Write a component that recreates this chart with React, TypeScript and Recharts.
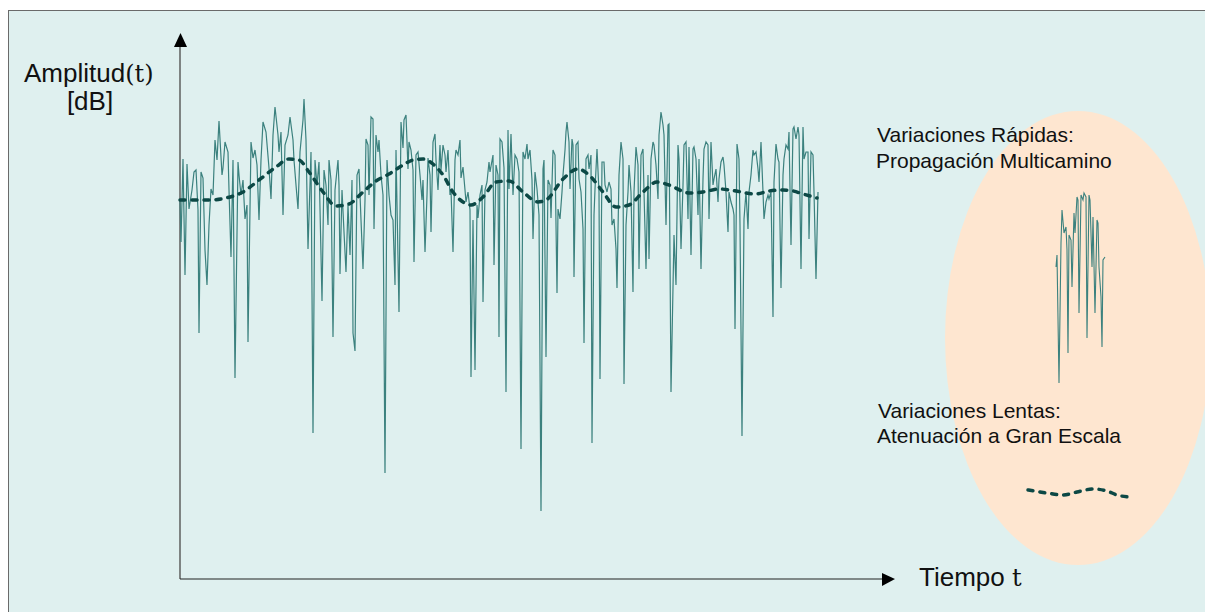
import { Line, LineChart, ReferenceLine, XAxis, YAxis } from "recharts";

// Fast fading samples: [time, amplitude dB]
const fastSamples: [number, number][] = [
  [0, -15.3], [1, -19.5], [3, -11.2], [5, -22.8], [7, -11.7], [9, -16.2], [12, -14.3], [14, -12.5],
  [16, -12.3], [18, -16.3], [19, -28.6], [21, -12.5], [23, -13.1], [25, -20.3], [27, -23.8], [29, -17.8],
  [31, -14.2], [33, -14.8], [35, -9.3], [37, -11.3], [39, -7.4], [42, -12.8], [43, -12.1], [45, -9.5],
  [48, -10.5], [49, -14.3], [51, -21.0], [53, -11.3], [55, -33.1], [58, -11.5], [59, -12.8], [61, -14.8],
  [63, -13.3], [65, -17.2], [67, -15.8], [68, -29.5], [71, -9.5], [73, -11.1], [75, -10.3], [77, -11.8],
  [79, -17.3], [81, -11.3], [83, -7.5], [86, -8.5], [89, -12.1], [91, -15.2], [93, -8.8], [95, -6.0],
  [98, -8.8], [99, -10.5], [101, -8.5], [103, -16.8], [105, -9.8], [108, -8.8], [110, -7.0], [113, -9.3],
  [114, -11.3], [116, -13.8], [118, -16.2], [120, -10.5], [123, -7.3], [124, -5.2], [126, -9.3], [128, -20.2],
  [131, -10.5], [133, -38.6], [135, -11.3], [137, -13.8], [139, -11.5], [142, -25.4], [144, -12.3], [146, -13.8],
  [148, -17.8], [149, -11.3], [151, -13.3], [153, -29.0], [155, -14.3], [158, -11.3], [159, -13.8],
  [160, -22.7], [162, -14.3], [164, -18.5], [166, -22.5], [168, -15.8], [170, -20.8], [172, -13.3], [173, -28.6],
  [175, -30.4], [177, -12.8], [179, -12.2], [181, -17.3], [183, -22.2], [185, -15.3], [186, -9.2], [188, -9.8],
  [189, -14.8], [191, -7.0], [193, -7.2], [194, -18.2], [196, -8.8], [198, -10.5], [199, -9.3], [201, -12.8],
  [203, -14.8], [205, -42.6], [207, -11.3], [209, -14.8], [211, -16.8], [213, -17.3], [215, -23.8], [216, -10.3],
  [219, -26.5], [221, -7.5], [223, -10.1], [224, -7.3], [226, -6.8], [228, -12.2], [229, -9.5], [231, -10.3],
  [233, -12.3], [234, -21.5], [236, -10.8], [238, -10.5], [240, -12.8], [242, -15.3], [243, -13.3], [245, -20.5],
  [247, -14.8], [248, -11.1], [250, -12.8], [251, -18.5], [253, -9.5], [255, -8.7], [256, -11.3], [258, -14.3],
  [260, -9.8], [261, -12.3], [263, -9.8], [265, -10.8], [266, -12.5], [268, -10.3], [270, -14.8], [271, -14.3],
  [273, -20.5], [275, -11.3], [276, -10.3], [278, -10.8], [280, -9.3], [281, -13.1], [283, -12.0], [285, -14.3],
  [286, -15.5], [288, -14.5], [290, -16.3], [291, -33.0], [293, -17.3], [295, -32.3], [297, -15.8], [298, -17.1],
  [300, -14.8], [302, -13.8], [303, -25.5], [305, -14.3], [307, -13.5], [309, -11.5], [310, -12.5], [313, -10.8],
  [314, -21.8], [316, -11.8], [318, -12.8],
  [319, -29.0], [320, -9.2], [322, -9.5], [324, -12.1], [326, -34.5], [328, -8.3], [329, -14.2], [331, -8.7],
  [333, -14.8], [335, -10.8], [337, -11.2], [339, -12.5], [341, -40.2], [343, -10.5], [345, -11.2], [347, -9.7],
  [348, -11.2], [350, -10.3], [352, -13.3], [353, -19.2], [355, -12.5], [357, -14.2], [359, -16.8], [361, -46.4],
  [363, -12.2], [364, -11.3], [366, -31.0], [368, -13.3], [370, -13.8], [371, -17.1], [373, -10.3], [375, -10.8],
  [377, -24.6], [378, -16.2], [380, -17.2], [382, -14.5], [383, -12.8], [385, -10.3], [386, -8.5], [387, -7.5],
  [389, -9.5], [390, -14.2], [392, -9.2], [393, -9.8], [394, -23.0], [396, -9.8], [398, -9.5], [399, -13.2],
  [401, -14.5], [403, -18.2], [404, -29.6], [406, -11.2], [408, -10.8], [409, -12.2], [411, -10.8], [412, -39.6],
  [414, -16.8], [415, -14.2], [417, -10.2], [419, -14.5], [420, -33.2], [422, -11.5], [424, -11.5], [425, -13.8],
  [427, -14.5], [429, -13.5], [431, -14.2], [432, -17.8], [434, -17.2], [436, -20.2], [437, -24.1], [439, -12.8],
  [441, -9.5], [443, -11.2], [444, -33.7], [446, -17.8], [448, -14.5], [449, -11.8], [451, -14.5], [453, -24.5],
  [454, -14.5], [456, -10.0], [458, -11.8], [459, -22.2], [461, -10.8], [463, -10.2], [464, -14.5], [466, -22.2],
  [468, -12.8], [469, -21.2], [471, -11.2], [473, -9.5], [474, -9.8], [476, -11.8],
  [478, -15.2], [479, -8.8], [481, -6.5], [483, -7.8], [484, -8.8], [486, -17.8], [488, -7.8], [489, -7.7],
  [491, -34.5], [494, -18.8], [496, -23.8], [498, -9.8], [499, -11.2], [501, -20.2], [503, -13.8], [504, -9.8],
  [506, -9.5], [508, -17.2], [509, -10.0], [511, -20.8], [513, -10.2], [514, -10.0], [516, -11.2], [518, -16.8],
  [519, -11.2], [521, -22.2], [523, -13.2], [524, -10.2], [526, -9.5], [528, -9.8], [529, -17.2], [531, -9.5],
  [533, -13.8], [534, -13.2], [536, -12.2], [538, -15.5], [539, -13.2], [541, -11.5], [543, -11.0], [544, -11.8],
  [546, -14.5], [548, -18.5], [549, -14.5], [551, -15.5], [553, -16.2], [554, -16.8], [555, -28.2], [557, -9.7],
  [559, -11.2], [560, -17.8], [562, -38.9], [564, -17.2], [566, -14.5], [568, -18.2], [569, -14.5], [571, -12.8],
  [573, -10.3], [574, -10.8], [576, -10.5], [578, -12.2], [579, -13.5], [581, -9.5], [583, -14.5], [584, -17.2],
  [586, -15.5], [588, -14.8], [589, -15.2], [591, -14.5], [593, -27.0], [594, -13.5], [596, -9.7], [598, -11.2],
  [599, -11.5], [601, -24.1], [603, -12.8], [604, -11.2], [606, -9.8], [608, -10.2], [609, -8.5], [611, -19.8],
  [613, -8.2], [614, -8.0], [616, -9.2], [618, -8.0], [619, -8.8], [621, -22.2], [623, -8.0], [624, -11.2],
  [626, -10.5], [628, -10.5], [629, -19.2], [631, -10.5], [633, -10.8], [634, -14.5], [636, -23.2], [638, -14.5],
];

// Large-scale (slow) fading: [time, amplitude dB]
const slowSamples: [number, number][] = [
  [0, -15.3], [15, -15.3], [29, -15.3], [46, -15.1], [63, -14.5], [79, -13.3], [96, -12.0], [109, -11.2],
  [119, -11.3], [129, -12.5], [143, -14.5], [156, -15.9], [169, -15.7], [183, -14.5], [196, -13.4], [209, -12.7],
  [223, -11.8], [233, -11.3], [243, -11.2], [253, -11.7], [263, -12.8], [273, -14.5], [283, -15.5], [291, -15.8],
  [303, -15.0], [316, -13.5], [329, -13.4], [343, -14.5], [358, -15.5], [366, -15.3], [383, -13.2], [398, -12.2],
  [409, -12.8], [423, -14.5], [436, -16.0], [449, -15.8], [463, -14.5], [477, -13.5], [489, -13.8], [509, -14.6],
  [523, -14.5], [539, -14.2], [556, -14.4], [566, -14.6], [576, -14.7], [589, -14.4], [603, -14.3], [613, -14.4],
  [623, -14.7], [637, -15.1],
];

// Legend samples
const rapidLegend: [number, number][] = [
  [0, -7.4], [1, -6.2], [3, -19.0], [5, -5.0], [6, -1.7], [8, -4.0], [10, -3.4], [11, -5.7], [12, -16.0],
  [13, -4.2], [15, -4.7], [16, -9.4], [18, -2.0], [19, -4.0], [21, -0.4], [22, -0.7], [23, -12.0], [25, -0.2],
  [27, -0.7], [28, 0], [30, -0.4], [31, -14.5], [33, -0.2], [34, -0.7], [36, -7.4], [37, -2.4], [39, -12.0],
  [41, -2.7], [42, -3.0], [43, -7.4], [45, -10.4], [46, -15.4], [47, -6.7], [49, -6.4],
];
const slowLegend: [number, number][] = [
  [0, -0.2], [19, -0.5], [35, -0.7], [49, -0.4], [65, -0.1], [79, -0.3], [89, -0.7], [100, -0.9],
];

const timeDomain: [number, number] = [0, 702];
const dbDomain: [number, number] = [-53.2, 0];

const toPoints = (arr: [number, number][]) => arr.map(([t, db]) => ({ t, db }));

const FAST = "#3b817e";
const SLOW = "#0c4845";
const SANS = "'Liberation Sans', Arial, sans-serif";
const SERIF = "'DejaVu Serif', 'Liberation Serif', serif";

export default function App() {
  const fast = toPoints(fastSamples);
  const slow = toPoints(slowSamples);

  return (
    <div style={{ position: "absolute", left: 0, top: 0, width: 1205, height: 612, overflow: "hidden", background: "#fff" }}>
      <div
        style={{
          position: "absolute", left: 8, top: 10, width: 1205, height: 620,
          border: "1px solid #6a6a6a", background: "#dff0ef",
        }}
      />
      <svg width={1205} height={612} style={{ position: "absolute", left: 0, top: 0 }}>
        <ellipse cx={1078} cy={338} rx={133} ry={227} fill="#fee6d0" />
      </svg>

      <div style={{ position: "absolute", left: 0, top: 0 }}>
        <LineChart width={1205} height={612} margin={{ top: 47, right: 323, bottom: 33, left: 180 }}>
          <XAxis dataKey="t" type="number" domain={timeDomain} hide />
          <YAxis type="number" domain={dbDomain} hide />
          <ReferenceLine x={timeDomain[0]} stroke="#555" strokeWidth={1.4} />
          <ReferenceLine y={dbDomain[0]} stroke="#222" strokeWidth={1.2} />
          <Line data={fast} dataKey="db" type="linear" stroke={FAST} strokeWidth={1.2} dot={false} isAnimationActive={false} />
          <Line
            data={slow} dataKey="db" type="monotone" stroke={SLOW} strokeWidth={3.5}
            strokeDasharray="5 7" strokeLinecap="round" dot={false} isAnimationActive={false}
          />
        </LineChart>
      </div>

      <div style={{ position: "absolute", left: 1054, top: 191 }}>
        <LineChart width={53} height={196} margin={{ top: 2, right: 2, bottom: 2, left: 2 }}>
          <XAxis dataKey="t" type="number" domain={[0, 49]} hide />
          <YAxis type="number" domain={[-19.2, 0]} hide />
          <Line data={toPoints(rapidLegend)} dataKey="db" type="linear" stroke={FAST} strokeWidth={1.1} dot={false} isAnimationActive={false} />
        </LineChart>
      </div>

      <div style={{ position: "absolute", left: 1024, top: 484 }}>
        <LineChart width={108} height={18} margin={{ top: 4, right: 4, bottom: 4, left: 4 }}>
          <XAxis dataKey="t" type="number" domain={[0, 100]} hide />
          <YAxis type="number" domain={[-1, 0]} hide />
          <Line
            data={toPoints(slowLegend)} dataKey="db" type="monotone" stroke={SLOW} strokeWidth={3.5}
            strokeDasharray="5 7" strokeLinecap="round" dot={false} isAnimationActive={false}
          />
        </LineChart>
      </div>

      <svg width={1205} height={612} style={{ position: "absolute", left: 0, top: 0, pointerEvents: "none" }}>
        <polygon points="180.5,33 174,47 187,47" fill="#000" />
        <polygon points="895,579 882,573 882,586" fill="#000" />
        <text x={24} y={82} fontFamily={SANS} fontSize={26} fill="#111">
          Amplitud<tspan fontFamily={SERIF} fontSize={24}>(t)</tspan>
        </text>
        <text x={90} y={110} fontFamily={SANS} fontSize={26} fill="#111" textAnchor="middle">[dB]</text>
        <text x={919} y={586} fontFamily={SANS} fontSize={26} fill="#111">
          Tiempo <tspan fontFamily={SERIF} fontSize={24}>t</tspan>
        </text>
        <g fontFamily={SANS} fontSize={21} fill="#111">
          <text x={877} y={142}>Variaciones Rápidas:</text>
          <text x={876} y={168}>Propagación Multicamino</text>
          <text x={878} y={418}>Variaciones Lentas:</text>
          <text x={877} y={443}>Atenuación a Gran Escala</text>
        </g>
      </svg>
    </div>
  );
}
